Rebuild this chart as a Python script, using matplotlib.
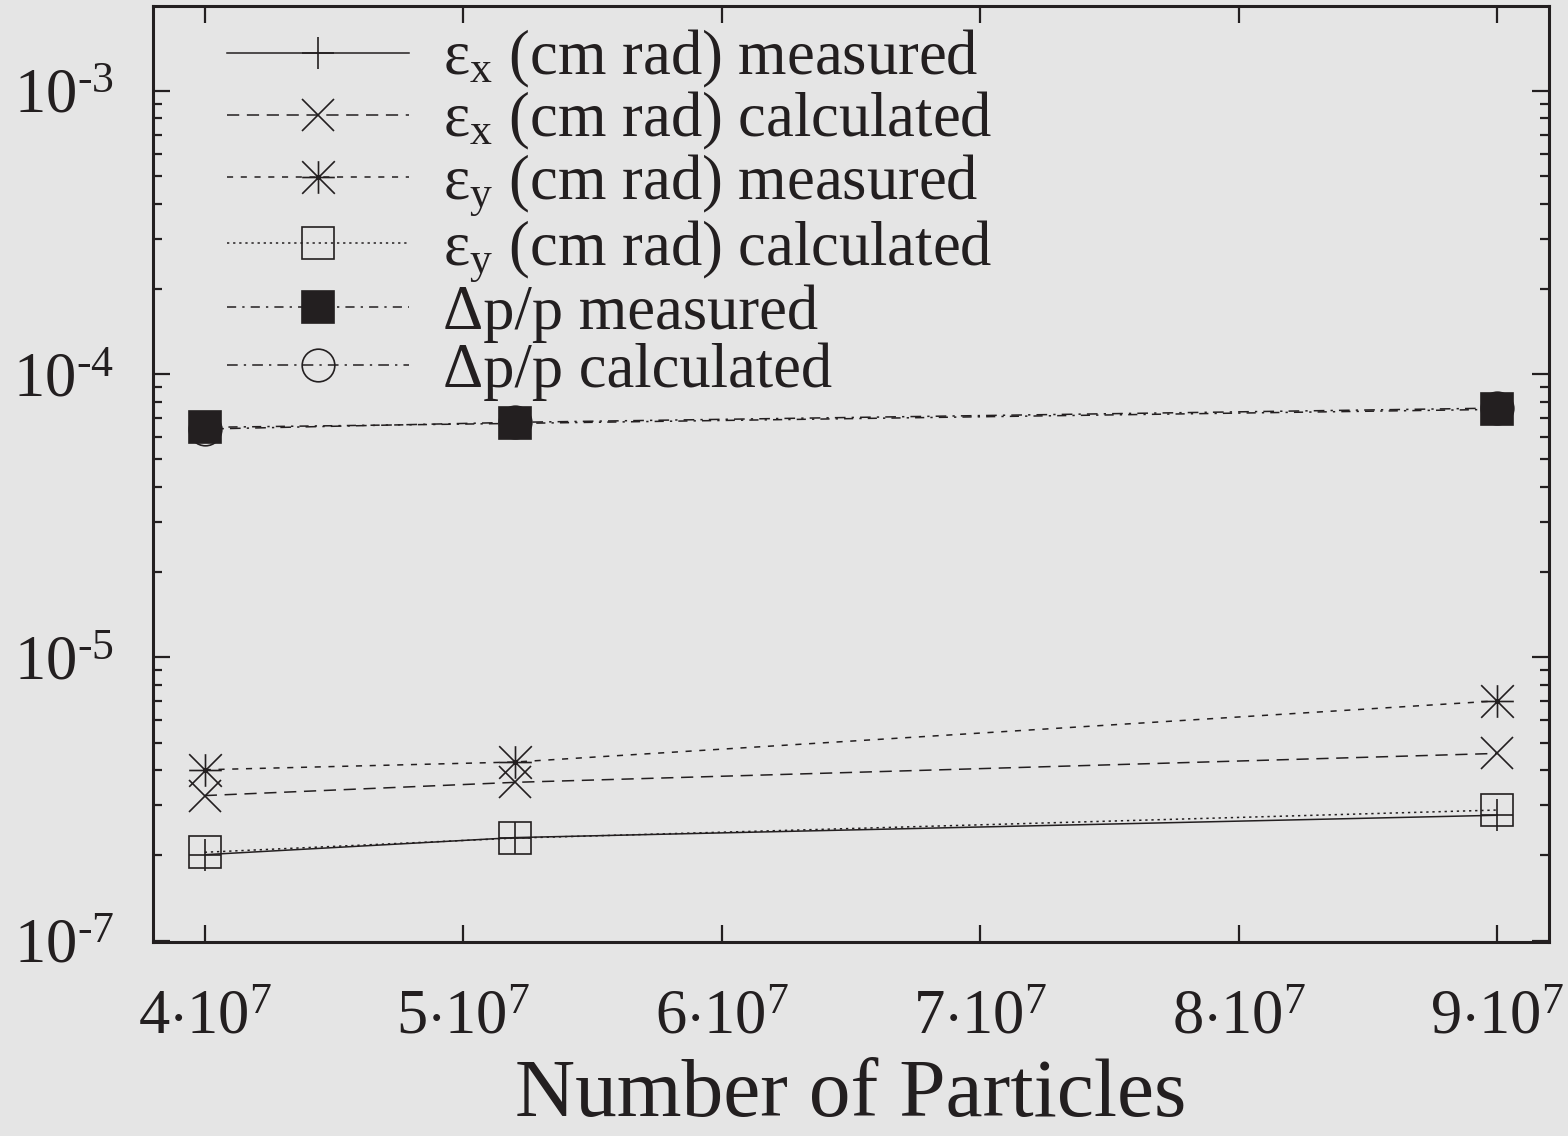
import matplotlib
matplotlib.use("Agg")
import matplotlib.pyplot as plt
from matplotlib.path import Path
from matplotlib.ticker import FixedLocator, FixedFormatter, LogLocator, NullFormatter

plt.rcParams['font.family'] = ['Liberation Serif', 'DejaVu Serif']
plt.rcParams['mathtext.fontset'] = 'custom'
plt.rcParams['mathtext.rm'] = 'Liberation Serif'
plt.rcParams['mathtext.it'] = 'Liberation Serif'

# particle numbers
particles = [4.0e7, 5.2e7, 9.0e7]

# emittances and momentum spread
ex_meas = [2.01e-6, 2.31e-6, 2.77e-6]
ex_calc = [3.25e-6, 3.62e-6, 4.58e-6]
ey_meas = [4.01e-6, 4.27e-6, 7.02e-6]
ey_calc = [2.05e-6, 2.30e-6, 2.89e-6]
dp_meas = [6.49e-5, 6.70e-5, 7.51e-5]
dp_calc = [6.40e-5, 6.76e-5, 7.59e-5]

xticks = [4e7, 5e7, 6e7, 7e7, 8e7, 9e7]
xticklabels = [r'4$\cdot$10$^{\mathregular{7}}$', r'5$\cdot$10$^{\mathregular{7}}$',
               r'6$\cdot$10$^{\mathregular{7}}$', r'7$\cdot$10$^{\mathregular{7}}$',
               r'8$\cdot$10$^{\mathregular{7}}$', r'9$\cdot$10$^{\mathregular{7}}$']
yticks = [1e-6, 1e-5, 1e-4, 1e-3]
yticklabels = [r'10$^{\mathregular{\text{-}7}}$', r'10$^{\mathregular{\text{-}5}}$',
               r'10$^{\mathregular{\text{-}4}}$', r'10$^{\mathregular{\text{-}3}}$']

labels = [r'ε$_{\mathregular{x}}$ (cm rad) measured',
          r'ε$_{\mathregular{x}}$ (cm rad) calculated',
          r'ε$_{\mathregular{y}}$ (cm rad) measured',
          r'ε$_{\mathregular{y}}$ (cm rad) calculated',
          'Δp/p measured',
          'Δp/p calculated']

bg = '#e5e5e5'
ink = '#231f20'

# gnuplot style star: plus and cross together
star = Path([(-1, 0), (1, 0), (0, -1), (0, 1), (-1, -1), (1, 1), (-1, 1), (1, -1)],
            [Path.MOVETO, Path.LINETO] * 4)

fig = plt.figure(figsize=(15.68, 11.36), dpi=100, facecolor=bg)
ax = fig.add_axes([0.0976, 0.1708, 0.8903, 0.8239], facecolor=bg)

ms = 23.5
mew = 1.2
lw = 1.1
ax.plot(particles, ex_meas, color=ink, lw=lw, ls='-', marker='+', ms=ms, mew=mew, label=labels[0])
ax.plot(particles, ex_calc, color=ink, lw=lw, ls=(0, (8, 5)), marker='x', ms=ms, mew=mew, label=labels[1])
ax.plot(particles, ey_meas, color=ink, lw=lw, ls=(0, (4, 5)), marker=star, ms=ms, mew=mew,
        mfc='none', label=labels[2])
ax.plot(particles, ey_calc, color=ink, lw=lw, ls=(0, (1.5, 2.5)), marker='s', ms=ms - 1, mew=mew,
        mfc='none', label=labels[3])
ax.plot(particles, dp_calc, color=ink, lw=lw, ls=(0, (7, 4, 1.5, 4)), marker='o', ms=ms, mew=mew,
        mfc='none', label=labels[5])
ax.plot(particles, dp_meas, color=ink, lw=lw, ls=(0, (6, 4, 1.5, 4)), marker='s', ms=ms - 1, mew=mew,
        mfc=ink, label=labels[4])

ax.set_yscale('log')
ax.set_xlim(3.8e7, 9.2e7)
ax.set_ylim(10 ** -6.005, 10 ** -2.70)

ax.xaxis.set_major_locator(FixedLocator(xticks))
ax.xaxis.set_major_formatter(FixedFormatter(xticklabels))
ax.xaxis.set_minor_locator(FixedLocator([]))
ax.yaxis.set_major_locator(FixedLocator(yticks))
ax.yaxis.set_major_formatter(FixedFormatter(yticklabels))
ax.yaxis.set_minor_locator(LogLocator(base=10, subs=range(2, 10), numticks=20))
ax.yaxis.set_minor_formatter(NullFormatter())

ax.tick_params(which='both', direction='in', top=True, right=True, color=ink, width=1.6, labelcolor=ink)
ax.tick_params(which='major', length=12, labelsize=45)
ax.tick_params(which='minor', length=6.5)
ax.tick_params(axis='x', which='major', pad=34)
ax.tick_params(axis='y', which='major', pad=28)
for s in ax.spines.values():
    s.set_linewidth(2.2)
    s.set_color(ink)

ax.set_xlabel('Number of Particles', fontsize=60, color=ink, labelpad=8)

# legend entries in the order they are listed
handles, labs = ax.get_legend_handles_labels()
order = [labs.index(l) for l in labels]
leg = ax.legend([handles[i] for i in order], [labs[i] for i in order],
                loc='upper left', bbox_to_anchor=(0.022, 1.023), frameon=False,
                fontsize=45, handlelength=2.9, handletextpad=0.55,
                labelspacing=0.0, borderpad=0.2, numpoints=1, labelcolor=ink)

fig.savefig('out.png', dpi=100, facecolor=bg)
